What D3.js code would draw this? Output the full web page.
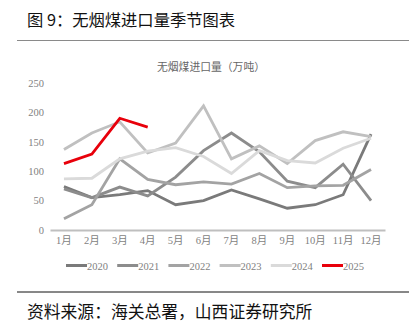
<!DOCTYPE html>
<html><head><meta charset="utf-8">
<script src="https://cdn.jsdelivr.net/npm/d3@7"></script>
<style>body{margin:0;background:#fff;}svg{display:block;}</style>
</head><body>
<svg id="c" width="419" height="333"></svg>
<script>
const months = ["1月","2月","3月","4月","5月","6月","7月","8月","9月","10月","11月","12月"];
const yTicks = [0,50,100,150,200,250];
const years = ["2020","2021","2022","2023","2024","2025"];
const v2020 = [74,55,60,67,43,50,68,53,37,43,60,163];
const v2021 = [70,55,73,58,90,135,165,133,83,72,112,50];
const v2022 = [19,43,121,86,77,82,78,96,72,75,76,103];
const v2023 = [137,165,184,131,148,211,121,143,113,152,167,159];
const v2024 = [87,88,121,134,140,125,96,135,118,114,139,156];
const v2025 = [113,129,190,175];
const seriesValues = [v2020,v2021,v2022,v2023,v2024,v2025];
const colors = ["#7a7a7a","#8c8c8c","#a3a3a3","#c0c0c0","#dadada","#e8000b"];

const svg = d3.select("#c");
const cjk = "'Noto Sans CJK SC','Noto Sans',sans-serif";
const serif = "'Liberation Serif','Noto Sans CJK SC',serif";

svg.append("text").attr("x",27).attr("y",26).attr("font-family",cjk).attr("font-size",16.3).attr("fill","#111")
  .text("图 9：无烟煤进口量季节图表");
svg.append("line").attr("x1",17).attr("x2",409).attr("y1",40.5).attr("y2",40.5).attr("stroke","#8a8a8a").attr("stroke-width",1.2);

svg.append("text").attr("x",211).attr("y",71).attr("text-anchor","middle").attr("font-family",cjk).attr("font-size",10.8).attr("fill","#666")
  .text("无烟煤进口量（万吨）");

const x = d3.scaleBand().domain(months).range([50,385]);
const y = d3.scaleLinear().domain([0,250]).range([230,83]);

// y labels
const ya = svg.append("g").attr("transform","translate(44,0)")
  .call(d3.axisLeft(y).tickValues(yTicks).tickSize(0).tickPadding(0));
ya.select(".domain").remove();
ya.selectAll("text").attr("font-family",serif).attr("font-size",10.5).attr("fill","#7f7f7f");

// x axis
const xa = svg.append("g").attr("transform","translate(0,230)")
  .call(d3.axisBottom(x).tickSize(0).tickPadding(7));
xa.select(".domain").attr("stroke","#bfbfbf").attr("stroke-width",2);
xa.selectAll("text").attr("font-family",serif).attr("font-size",10.5).attr("fill","#7f7f7f");

const line = d3.line().x((d,i)=>x(months[i])+x.bandwidth()/2).y(d=>y(d));
seriesValues.forEach((vals,k)=>{
  svg.append("path").datum(vals).attr("d",line).attr("fill","none")
    .attr("stroke",colors[k]).attr("stroke-width",2.8).attr("stroke-linejoin","miter");
});

// legend
const lg = svg.append("g");
years.forEach((yr,k)=>{
  const lx = 66 + k*51.2;
  lg.append("line").attr("x1",lx).attr("x2",lx+21).attr("y1",265.5).attr("y2",265.5)
    .attr("stroke",colors[k]).attr("stroke-width",3);
  lg.append("text").attr("x",lx+21).attr("y",269.5).attr("font-family",serif).attr("font-size",10.5).attr("fill","#7f7f7f").text(yr);
});

svg.append("line").attr("x1",17).attr("x2",409).attr("y1",292).attr("y2",292).attr("stroke","#111").attr("stroke-width",1);
svg.append("text").attr("x",27).attr("y",318).attr("font-family",cjk).attr("font-size",16.8).attr("fill","#111")
  .text("资料来源：海关总署，山西证券研究所");
</script>
</body></html>
